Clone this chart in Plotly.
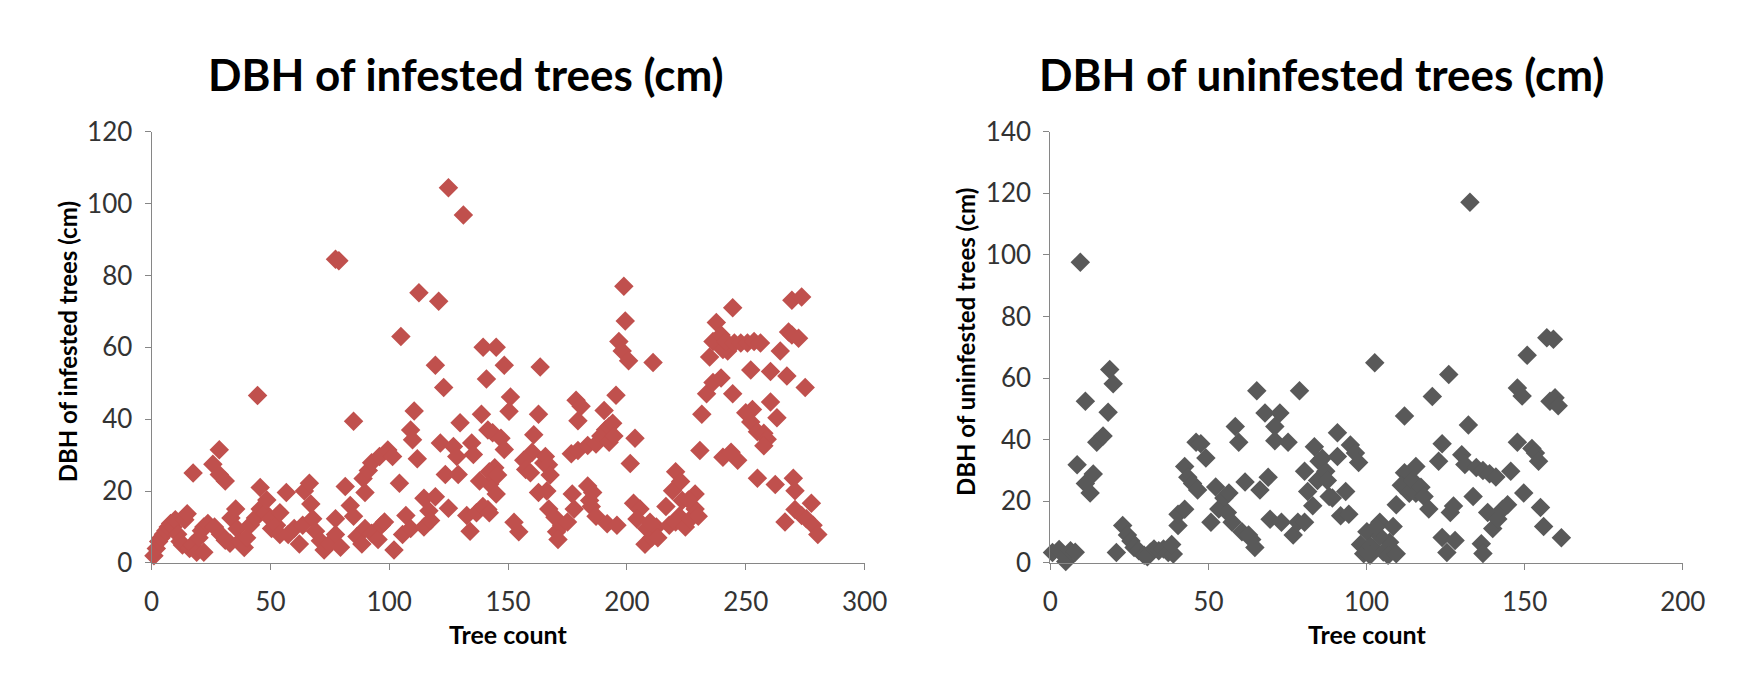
import plotly.graph_objects as go

# ---------------- data ----------------
inf_x = [1, 2, 3, 4, 5, 6, 7, 8, 9, 10, 11, 12, 13, 14, 15, 16, 17, 17.5, 19, 20, 21, 22, 22, 23.7,
         25.8, 26.5, 28.5, 28.5, 29, 31, 31, 33, 33.4, 35.4, 36, 37, 39, 40, 41.6, 43.7, 44.6, 45.7,
         45.7, 47.8, 48.5, 50, 50.5, 52.6, 54, 54, 56.7, 57.5, 60, 62.2, 63.6, 64.3, 66.4, 67, 67.8,
         69, 71, 72.6, 74.7, 77.4, 77.4, 77.4, 78.8, 79.5, 81.5, 83.6, 85, 85, 86.4, 88.5, 89, 89.8,
         89.8, 91.2, 92.6, 92.6, 95.3, 95.9, 96.7, 98, 99.4, 101.4, 102, 104.3, 104.9, 105.6, 107,
         109, 109, 109.8, 110.5, 111.8, 112.5, 114.6, 114.6, 116.7, 117.4, 119.4, 119.4, 120.8,
         121.5, 122.9, 123.6, 124.9, 124.9, 127, 128.4, 129, 129.8, 131.2, 132.6, 134, 134.7, 135.4,
         136.7, 138, 138.8, 139.5, 140.9, 141.5, 141.5, 142.3, 144.4, 145,
         148.4, 151, 150.4, 143.5, 147, 148.4, 142.1, 145.6, 145, 139.4, 142.1, 154.5, 152.5, 163.5,
         162.8, 160.8, 160.1, 156.6, 157.4, 159.4, 165, 165.7, 167, 162.8, 167.7, 166.3, 167.1,
         169.7, 170.4, 172.5, 171, 175, 177.8, 177, 178.6, 180.7, 179.4, 183.5, 184.3, 185.6, 185,
         187, 176.6, 179.4, 183.5, 187, 189, 191, 190.4, 192.5, 194, 195.4, 192.5, 194.5, 191.7,
         195.8, 198.7, 199.3, 196.6, 198, 200.7, 211, 203.4, 201.4, 202.8, 205.5, 204.2, 208.3,
         207.6, 210.4, 212.4, 209.7, 213, 216.4, 219.2, 220.5, 222.6, 223.3, 222, 217.8, 220.5,
         224.6, 226.7, 228.7, 228.7, 230, 225.9, 230.7, 231.5, 233.5, 236.2, 234.8, 236.2, 237.6,
         239.6, 242.4, 240.4, 244.5, 241.7, 245.2, 247.9, 250.7, 253.5, 256.2, 239.6, 244.5, 240.4,
         246.6, 243.8, 252.1, 252.8, 250, 252.1, 254.9, 257.6, 259, 257.6, 260.4, 263.1, 260.4,
         267.3, 264.5, 268, 269.4, 269.4, 273.5, 272.2, 275, 254.9, 262.4, 270, 270.7, 266.5,
         270.7, 273.5, 277.6, 275.5, 278.3, 280.3]
inf_y = [2, 4, 6, 7, 8, 9, 10, 11, 10, 12, 8, 6, 5, 12, 13.7, 4, 5, 25, 3, 7, 9, 3, 10, 11,
         27.5, 10, 31.5, 24.6, 8, 22.8, 6.3, 5.5, 12.5, 15, 9.5, 6, 4.3, 7, 10.6, 12.5, 46.6, 15,
         21, 14, 17.5, 12.3, 9.6, 10.5, 14, 7.9, 19.6, 7.9, 9.6, 5.3, 10.5, 20, 22.2, 16.4, 12.3,
         8.8, 6.2, 3.6, 5.3, 7.9, 12.3, 84.5, 84.1, 4.4, 21.3, 16, 13, 39.4, 7.4, 5.3, 23.5, 19.6,
         9.6, 25.7, 27.9, 8.3, 6.5, 29.6, 10.5, 11.4, 31.4, 29.6, 3.6, 22.2, 63, 7.9, 13.2,
         9.6, 37, 34.3, 42.3, 29, 75.2, 18, 10, 14.5, 11.8, 18.4, 55, 72.8,
         33.4, 48.8, 24.6, 104.4, 15.2, 32.4, 29.6, 24.6, 39, 96.8, 13.2, 8.8, 33.4, 30.2,
         14, 22.8, 41.4, 60, 51.2, 14.9, 37, 22, 26.5, 60,
         55, 46.2, 42.2, 36.2, 34.7, 31.6, 25.4, 24.5, 19.2, 15.7, 14, 8.7, 11.3, 54.5,
         41.4, 35.7, 30.8, 28.6, 26, 25.1, 27.8, 29.6, 27.3, 19.6, 24.5, 20, 15,
         12.7, 8.7, 10.5, 6.5, 11.4, 15, 19.2, 45.3, 43.6, 39.6, 21.4, 17.4, 19.6, 15.7,
         13, 30.4, 31.3, 32.7, 33.1, 35.3, 37.1, 42.4, 38, 38.9, 46.7, 33.6, 35.3, 10.9,
         10.5, 77, 67.3, 61.6, 59, 56.3, 55.8, 34.7, 27.7, 16.6, 15, 12.2, 9.6,
         5.2, 7, 10, 11.3, 7, 15.7, 20.1, 25.4, 22.7, 17.4, 13, 10.5, 11.4,
         10, 12.2, 15, 19.2, 13, 17.5, 31.3, 41.4, 47.1, 50.2, 57.3, 61.6, 66.9,
         63.4, 59, 59.4, 71, 61.6, 61.2, 61.2, 61.2, 61.6, 61.2, 51.5, 47.1, 29.4,
         28.6, 30.8, 53.7, 42.7, 41.8, 39.2, 36.5, 36.1, 34.4, 32.6, 44.8, 40.4, 53.3,
         52, 59, 64.3, 63.4, 73.1, 74, 62.5, 48.8, 23.6, 21.8, 23.6, 20.1, 11.4,
         14.9, 13.2, 16.6, 12.3, 10.5, 7.9]

uninf_x = [0.7, 2.8, 4.3, 4.9, 6.4, 7.9, 9.5, 11.1, 8.5, 11.1, 12.6, 13.6, 14.7, 16.7, 18.3, 18.8,
           19.9, 20.9, 22.9, 24.4, 25.5, 26.5, 28, 29.7, 30.7, 31.7, 32.8, 34.3, 35.8, 37.3, 38.9,
           38.4, 40.4, 40.4, 42.5, 42.5, 43.5, 45, 46.1, 47.6, 49.2, 46.6, 50.8, 52.3, 53.3, 54.9,
           56, 56.5, 57.5, 58.5, 59.6, 60.6, 61.6, 62.7, 63.7, 64.7, 65.3, 67.9, 66.3, 68.9, 71,
           72.6, 71, 75.2, 69.5, 73.1, 76.8, 78.8, 78.3, 80.4, 80.4, 81.4, 83, 83.5, 84.5, 85, 86,
           87.1, 87.6, 88.2, 89.2, 90.8, 90.8, 91.8, 93.4, 94.4, 94.9, 96.5, 97.5, 98.1, 99.1,
           100.1, 101.2, 102.6, 104.2, 102.2, 105.3, 107.3, 108.4, 104.2, 103.2, 101.1, 106.8,
           109.4, 109.4, 112, 112, 111, 113.5, 114.6, 115.6, 115.6, 117.2, 118.2, 119.7, 120.8,
           122.8, 123.9, 123.9, 125.4, 126, 126.5, 127.5, 128, 130.1, 131.1, 132.2, 132.7, 133.7,
           134.7, 136.8, 136.3, 136.8, 138.3, 138.9, 139.9, 140.9, 141.5, 143, 144.6, 145.6,
           147.7, 147.7, 149.2, 149.7, 150.8, 152.3, 153.4, 154.4, 155, 156, 157, 159.1, 158,
           159.6, 160.6, 161.6]
uninf_y = [3.4, 4.4, 2.4, 0.5, 4, 3.5, 97.6, 52.5, 31.9, 25.8, 22.7, 28.9, 39.2, 41.2, 48.9, 62.8,
           58.2, 3.4, 12.2, 9.1, 7.1, 5, 4, 2.5, 2, 3.5, 4.5, 4, 4.5, 3.4, 2.9,
           6, 12.2, 15.8, 17.4, 31.3, 27.8, 25.8, 39.2, 38.7, 34.1, 23.7, 13.2, 24.7, 17.5, 21.1,
           16.4, 22.7, 13.2, 44.3, 39.2, 10.1, 26.3, 9.1, 7.6, 5, 55.9, 48.7, 23.7, 27.8, 44.3,
           48.7, 39.7, 39.2, 14.2, 13.2, 9.1, 55.9, 13.2, 13.2, 29.8, 23.2, 18.6, 37.7, 26.8, 33, 34,
           29.8, 26.8, 21.6, 21.1, 42.3, 34.6, 15.3, 23.2, 15.8, 38.3, 35.7, 32.6, 6, 3,
           10.1, 5.5, 65, 13.2, 4.6, 3.6, 6.7, 11.8, 8.7, 11.8, 2.5, 2.5,
           3, 18.9, 47.7, 29.3, 25.2, 22.6, 26.8, 31.3, 22.6, 24.6, 21.6, 17.5, 54,
           33, 38.7, 8.3, 3.4, 61.2, 16.4, 18.5, 7.3, 35.1, 32, 44.8, 117.1, 21.6,
           31, 30, 6.2, 3.1, 16.4, 29, 11.2, 27.9, 14.3, 17.4, 18.9, 29.8,
           39.2, 56.8, 54.2, 22.7, 67.4, 37.2, 35.7, 33, 18, 11.8, 73.1, 72.6, 52.5,
           53.6, 51, 8.2]

left_title = "DBH of infested trees (cm)"
right_title = "DBH of uninfested trees (cm)"
x_title = "Tree count"

# ---------------- figure ----------------
OX, OY = 8, 8          # page (body) margin around the figure
FW, FH = 1742, 676     # figure size so that it fits the 1758x692 window


def px(a):
    return (a - OX) / FW


def py(a):
    return 1 - (a - OY) / FH


FONT = "Lato"
RED = "#C0504D"
GRAY = "#595959"
AXIS = "#868686"

fig = go.Figure()
fig.add_trace(go.Scatter(x=inf_x, y=inf_y, mode="markers", xaxis="x", yaxis="y",
                         marker=dict(symbol="diamond", size=15, color=RED, line=dict(width=0)),
                         cliponaxis=False, showlegend=False))
fig.add_trace(go.Scatter(x=uninf_x, y=uninf_y, mode="markers", xaxis="x2", yaxis="y2",
                         marker=dict(symbol="diamond", size=15, color=GRAY, line=dict(width=0)),
                         cliponaxis=False, showlegend=False))

ydom = [py(572.7), py(120)]
tickfont = dict(family=FONT, size=26, color="#333333")
bold = dict(family=FONT, color="#000000", weight="bold")


def xax(dom, rng, anchor):
    return dict(domain=dom, range=rng, dtick=50, tick0=0, showline=True, linecolor=AXIS,
                linewidth=1, ticks="outside", ticklen=6, tickcolor=AXIS, showgrid=False,
                zeroline=False, tickfont=tickfont, anchor=anchor, ticklabelstandoff=10)


def yax(rng, anchor):
    return dict(domain=ydom, range=rng, dtick=20, tick0=0, showline=True, linecolor=AXIS,
                linewidth=1, ticks="outside", ticklen=6, tickcolor=AXIS, showgrid=False,
                zeroline=False, tickfont=tickfont, anchor=anchor, ticklabelstandoff=7)


def ann(text, x, y, size, angle=0):
    return dict(text=text, x=px(x), y=py(y), xref="paper", yref="paper",
                xanchor="center", yanchor="middle", showarrow=False, textangle=angle,
                font=dict(size=size, **bold))


fig.update_layout(
    width=FW, height=FH,
    margin=dict(l=0, r=0, t=0, b=0),
    paper_bgcolor="white", plot_bgcolor="white",
    xaxis=xax([px(146), px(872)], [0, 300], "y"),
    yaxis=yax([0, 120], "x"),
    xaxis2=xax([px(1061), px(1705)], [0, 200], "y2"),
    yaxis2=yax([0, 140], "x2"),
    annotations=[
        ann(left_title, 466, 59, 44),
        ann(right_title, 1337, 59, 44),
        ann(left_title, 60, 341, 24, -90),
        ann(right_title, 974, 341, 24, -90),
        ann(x_title, 509, 647, 25),
        ann(x_title, 1383, 647, 25),
    ],
)

fig.write_html("out.html")
